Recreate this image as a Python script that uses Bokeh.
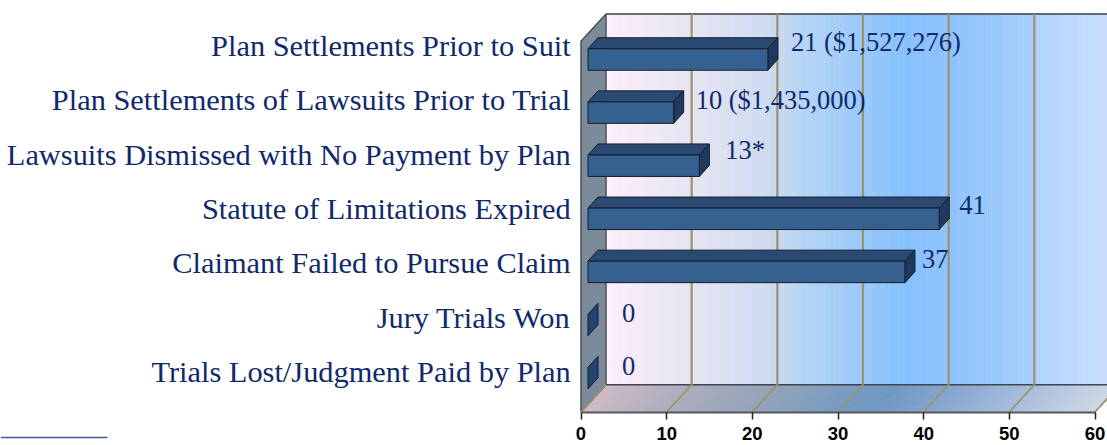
from bokeh.plotting import figure
from bokeh.embed import file_html
from bokeh.resources import INLINE
from bokeh.models import Range1d, FixedTicker
from bokeh.core.properties import value
import numpy as np

# ---- data ----
categories = ["Plan Settlements Prior to Suit",
              "Plan Settlements of Lawsuits Prior to Trial",
              "Lawsuits Dismissed with No Payment by Plan",
              "Statute of Limitations Expired",
              "Claimant Failed to Pursue Claim",
              "Jury Trials Won",
              "Trials Lost/Judgment Paid by Plan"]
counts = [21, 10, 13, 41, 37, 0, 0]
labels = ["21 ($1,527,276)", "10 ($1,435,000)", "13*", "41", "37", "0", "0"]
ticks = [0, 10, 20, 30, 40, 50, 60]

# ---- layout: pixels to data units ----
PXX = 8.5667          # pixels per count
PXY = 53.1            # pixels per row
X0 = 580.5            # page x of value 0
Y0 = 59.0             # page y of the centre of row 0
PAGE_W, PAGE_H = 1107, 445
FLOOR = (411.5 - Y0) / PXY
TOP = (13.5 - Y0) / PXY
WX = 25 / PXX         # wall depth
WY = 27.3 / PXY
BX0 = 7 / PXX         # bar start
BDX = 10 / PXX        # bar depth
BDY = 11 / PXY
BH = 21.5 / PXY       # bar front height


def hexrgb(c):
    return np.array([int(c[i:i + 2], 16) for i in (1, 3, 5)], float)


def ramp(stops, v):
    xs = [s[0] for s in stops]
    cs = np.array([hexrgb(s[1]) for s in stops])
    r = [np.interp(v, xs, cs[:, k]) for k in range(3)]
    return "#%02x%02x%02x" % tuple(int(round(x)) for x in r)


p = figure(width=PAGE_W, height=PAGE_H, output_backend="svg", toolbar_location=None,
           x_range=Range1d(-X0 / PXX, (PAGE_W - X0) / PXX),
           y_range=Range1d((PAGE_H - Y0) / PXY, -Y0 / PXY),
           min_border_left=0, min_border_right=0, min_border_top=0, min_border_bottom=0,
           background_fill_color="white", border_fill_color="white", outline_line_color=None)
p.grid.visible = False
p.yaxis.visible = False

# back wall
wall_stops = [(0, "#fdeefb"), (10, "#e6e4f4"), (20, "#c9d9ef"), (23, "#b4d4f5"), (30, "#98c8f9"),
              (35, "#85c0fd"), (40, "#8cc2fc"), (50, "#a6cdfd"), (50.5, "#b0d3fe"), (60, "#cfe1fd")]
edges = np.arange(0, 60, 0.25)
cols = [ramp(wall_stops, e + 0.125) for e in edges]
p.quad(left=edges + WX, right=edges + 0.25 + WX, top=TOP, bottom=FLOOR - WY,
       fill_color=cols, line_color=cols, line_width=0.5)
# floor
floor_stops = [(0, "#cdb8c4"), (10, "#a9a9bb"), (20, "#90a0b6"), (30, "#7097be"), (34, "#6a94c0"),
               (40, "#7da0ca"), (50, "#a6bbdb"), (60, "#ccd6e4")]
fx, fy, fc = [], [], []
for e in np.arange(0, 60, 0.25):
    fx.append([e, e + 0.25, e + 0.25 + WX, e + WX])
    fy.append([FLOOR, FLOOR, FLOOR - WY, FLOOR - WY])
    fc.append(ramp(floor_stops, e + 0.125))
p.patches(fx, fy, fill_color=fc, line_color=fc, line_width=0.5)
# left wall
p.patch([0, WX, WX, 0], [FLOOR, FLOOR - WY, TOP, TOP + WY], fill_color="#7b8b9a",
        line_color="#4a4f55", line_width=1.5)
# wall edges
p.line([WX, 60 + WX + 2], [TOP, TOP], line_color="#3c3f44", line_width=1.5)
p.line([WX, 60 + WX + 2], [FLOOR - WY, FLOOR - WY], line_color="#3f4650", line_width=1.5)
# grid
grid = "#9a9468"
for t in ticks:
    if t > 0:
        p.line([t + WX, t + WX], [TOP, FLOOR - WY], line_color=grid, line_width=2.2)
    p.line([t, t + WX], [FLOOR, FLOOR - WY], line_color=grid, line_width=1.8)

# bars
for i, c in enumerate(counts):
    y = i
    l, r = BX0, BX0 + c
    t, b = y - BH / 2, y + BH / 2
    edge = "#141d2b"
    if c > 0:
        p.patch([l, r, r + BDX, l + BDX], [t, t, t - BDY, t - BDY], fill_color="#2a4a73",
                line_color=edge, line_width=1)
        p.patch([r, r + BDX, r + BDX, r], [t, t - BDY, b - BDY, b], fill_color="#1f3a5e",
                line_color=edge, line_width=1)
        p.patch([l, r, r, l], [b, b, t, t], fill_color="#35608f", line_color=edge, line_width=1)
    else:
        p.patch([l, l + BDX, l + BDX, l], [t, t - BDY, b - BDY, b], fill_color="#234470",
                line_color=edge, line_width=1)

# texts
ink = "#10296b"
row_text_y = [(45.5 + 54.3 * i - Y0) / PXY for i in range(len(categories))]
p.text(x=[-1.2] * len(categories), y=row_text_y, text=categories,
       text_font=value("Liberation Serif"), text_font_size="30.4px", text_color=ink,
       text_align="right", text_baseline="middle")
dx_px = [23, 22, 26, 20, 17, 24, 24]
dy_px = [-18, -13, -16, -14, -13, -12, -12]
lx = [BX0 + c + d / PXX for c, d in zip(counts, dx_px)]
ly = [i + d / PXY for i, d in enumerate(dy_px)]
lx[5] = lx[6] = BX0 + BDX + 24 / PXX
p.text(x=lx, y=ly, text=labels, text_font=value("Liberation Serif"), text_font_size="26.5px",
       text_color=ink, text_align="left", text_baseline="middle")

# footnote rule
p.line([-X0 / PXX, (107 - X0) / PXX], [(437 - Y0) / PXY] * 2, line_color="#3f5f98", line_width=1.5)

# axis, pinned at the front edge of the floor
ax = p.xaxis[0]
ax.fixed_location = FLOOR
ax.ticker = FixedTicker(ticks=ticks)
ax.bounds = (0, 60)
ax.axis_line_color = "#55585c"
ax.axis_line_width = 2
ax.major_tick_line_color = "#222222"
ax.major_tick_line_width = 1.5
ax.major_tick_out = 7
ax.major_tick_in = 0
ax.minor_tick_line_color = None
ax.major_label_text_font = "Liberation Sans"
ax.major_label_text_font_style = "bold"
ax.major_label_text_font_size = "18.5px"
ax.major_label_text_color = "black"
ax.major_label_standoff = 8

open("out.html", "w").write(file_html(p, INLINE))
